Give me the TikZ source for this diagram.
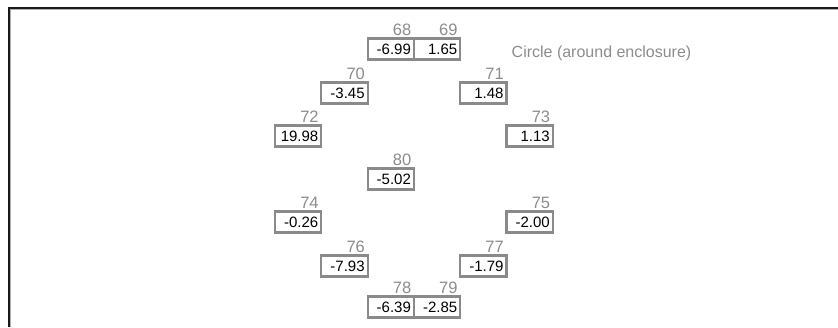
\documentclass[tikz,border=0pt]{standalone}
\usepackage{fontspec}
\setmainfont{Liberation Sans}
\definecolor{boxgray}{HTML}{8A8A8A}
\definecolor{labgray}{HTML}{8C8C8C}
\definecolor{framedark}{HTML}{1A1A1A}
\definecolor{frameshade}{HTML}{B0B0B0}
\begin{document}
\begin{tikzpicture}[x=1pt,y=-1pt,
  valbox/.style={draw=boxgray, line width=2.2pt, fill=white, rectangle, anchor=north west,
    minimum width=46.3pt, minimum height=21pt, text width=40.3pt, align=right,
    inner xsep=3pt, inner ysep=0pt, outer sep=0pt, font=\fontsize{15}{15}\selectfont},
  numlab/.style={anchor=base east, inner sep=0pt, text=labgray, font=\fontsize{16.5}{16.5}\selectfont},
  note/.style={anchor=base west, inner sep=0pt, text=labgray, font=\fontsize{16}{16}\selectfont}]
\useasboundingbox (0,0) rectangle (838,327);
% frame
\coordinate (fbl) at (8.5,327);
\coordinate (ftr) at (838,7.5);
\coordinate (sbl) at (10.5,327);
\coordinate (str) at (838,9.5);
\draw[frameshade, line width=1pt] (sbl) |- (str);
\draw[framedark, line width=2pt] (fbl) |- (ftr);
% cells
\foreach \nm/\cx/\ry/\val in {
  68/367.6/38.5/-6.99, 69/413.9/38.5/1.65,
  70/321.3/82.5/-3.45, 71/460.2/82.5/1.48,
  72/275/125.5/19.98, 73/506.5/125.5/1.13,
  80/367.6/168.5/-5.02,
  74/275/211.5/-0.26, 75/506.5/211.5/-2.00,
  76/321.3/255.5/-7.93, 77/460.2/255.5/-1.79,
  78/367.6/296.5/-6.39, 79/413.9/296.5/-2.85}{
  \node[valbox] (n\nm) at (\cx,\ry) {\val};
  \node[numlab] (l\nm) at ([xshift=-2.5pt,yshift=3pt]n\nm.north east) {\nm};
}
\node[note] (circ) at (511.5,57) {Circle (around enclosure)};
\end{tikzpicture}
\end{document}
